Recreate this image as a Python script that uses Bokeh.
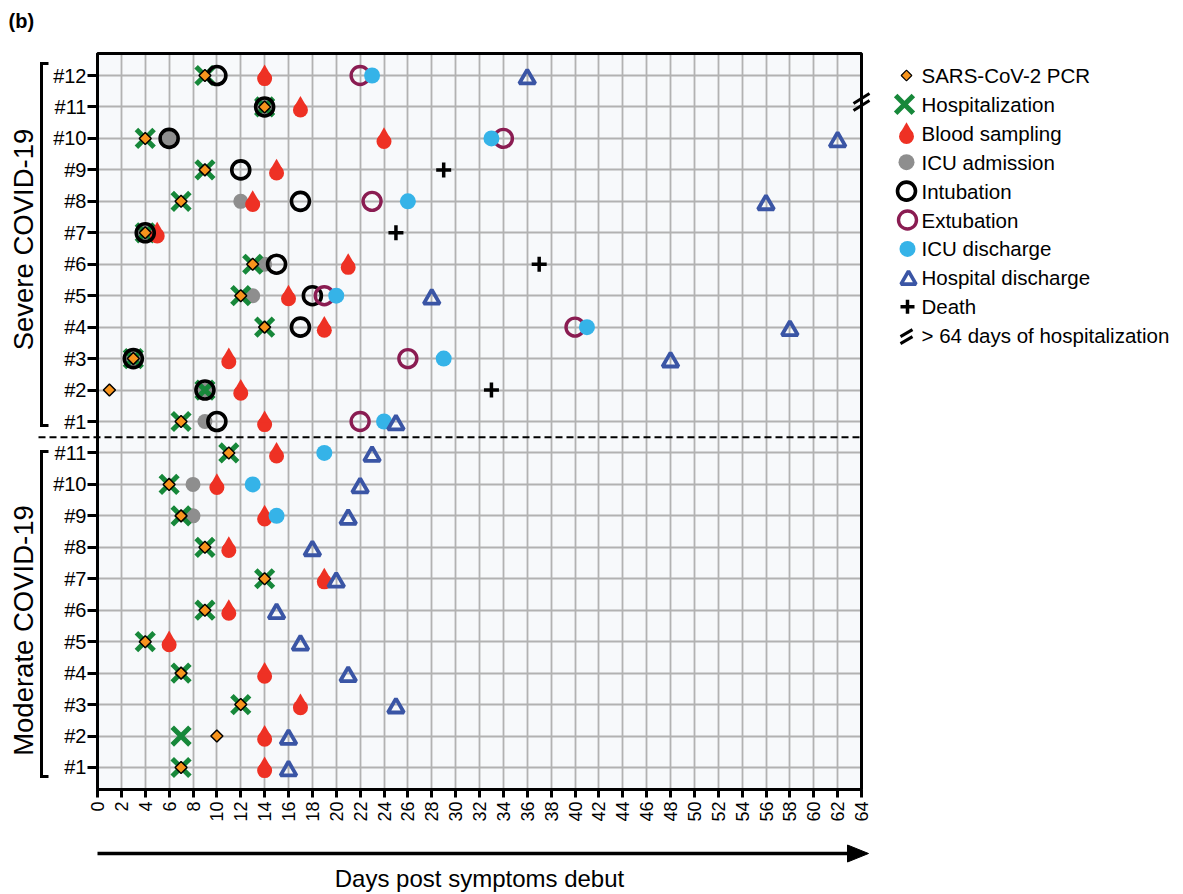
import numpy as np
from bokeh.plotting import figure
from bokeh.models import Range1d, FixedTicker
from bokeh.embed import file_html
from bokeh.resources import INLINE
from bokeh.core.properties import value

# ---------------- data ----------------
severe_ids = ["#1", "#2", "#3", "#4", "#5", "#6", "#7", "#8", "#9", "#10", "#11", "#12"]
moderate_ids = ["#1", "#2", "#3", "#4", "#5", "#6", "#7", "#8", "#9", "#10", "#11"]
x_ticks = list(range(0, 65, 2))

# severe patients (None = no event)
sev_pcr = [7, 1, 3, 14, 12, 13, 4, 7, 9, 4, 14, 9]
sev_hosp = [7, 9, 3, 14, 12, 13, 4, 7, 9, 4, 14, 9]
sev_blood = [14, 12, 11, 19, 16, 21, 5, 13, 15, 24, 17, 14]
sev_icu_adm = [9, 9, 3, None, 13, 14, 4, 12, None, 6, 14, None]
sev_intub = [10, 9, 3, 17, 18, 15, 4, 17, 12, 6, 14, 10]
sev_extub = [22, None, 26, 40, 19, None, None, 23, None, 34, None, 22]
sev_icu_dis = [24, None, 29, 41, 20, None, None, 26, None, 33, None, 23]
sev_hosp_dis = [25, None, 48, 58, 28, None, None, 56, None, 62, None, 36]
sev_death = [None, 33, None, None, None, 37, 25, None, 29, None, None, None]
sev_over64 = [False, False, False, False, False, False, False, False, False, False, True, False]

# moderate patients
mod_pcr = [7, 10, 12, 7, 4, 9, 14, 9, 7, 6, 11]
mod_hosp = [7, 7, 12, 7, 4, 9, 14, 9, 7, 6, 11]
mod_blood = [14, 14, 17, 14, 6, 11, 19, 11, 14, 10, 15]
mod_icu_adm = [None, None, None, None, None, None, None, None, 8, 8, None]
mod_icu_dis = [None, None, None, None, None, None, None, None, 15, 13, 19]
mod_hosp_dis = [16, 16, 25, 21, 17, 15, 20, 18, 21, 22, 23]

legend_labels = ["SARS-CoV-2 PCR", "Hospitalization", "Blood sampling", "ICU admission",
                 "Intubation", "Extubation", "ICU discharge", "Hospital discharge",
                 "Death", "> 64 days of hospitalization"]

# ---------------- styling ----------------
FONT = "Liberation Sans"
C_PCR = "#F7941D"
C_HOSP = "#17883A"
C_BLOOD = "#EE3124"
C_ICU = "#8E8E8E"
C_EXT = "#8A1C52"
C_ICUD = "#35B3E8"
C_HD = "#3A55A5"
BG = "#F7F9FB"
GRID = "#B2B2B2"

n_mod = len(moderate_ids)
n_sev = len(severe_ids)
n_rows = n_mod + n_sev
Y0, Y1 = 0.3, n_rows + 0.7
X0, X1 = 0, 64
W, H = 1180, 892
# plot frame in canvas pixels
FL, FR, FT, FB = 97, 861, 53, 789
ppu_x = (FR - FL) / (X1 - X0)
ppu_y = (FB - FT) / (Y1 - Y0)


def px2x(px):
    return X0 + (px - FL) / ppu_x


def py2y(py):
    return Y0 + (FB - py) / ppu_y


row_sev = [n_mod + i + 1 for i in range(n_sev)]
row_mod = [i + 1 for i in range(n_mod)]


def pts(days_s, days_m=None):
    xs, ys = [], []
    for d, r in zip(days_s, row_sev):
        if d is not None:
            xs.append(d); ys.append(r)
    if days_m is not None:
        for d, r in zip(days_m, row_mod):
            if d is not None:
                xs.append(d); ys.append(r)
    return np.array(xs, dtype=float), np.array(ys, dtype=float)


p = figure(width=W, height=H, x_range=Range1d(px2x(0), px2x(W)), y_range=Range1d(py2y(H), py2y(0)),
           output_backend="svg", toolbar_location=None, min_border=0,
           background_fill_color="white", border_fill_color="white")
p.outline_line_color = None

# background of the plotting area
bg = p.quad(left=[X0], right=[X1], bottom=[Y0], top=[Y1], fill_color=BG, line_color=None)
bg.level = "image"

# axes (fixed at the data frame edges)
p.xaxis.fixed_location = Y0
p.xaxis.bounds = (X0, X1)
p.xaxis.ticker = FixedTicker(ticks=x_ticks)
p.xaxis.major_label_orientation = np.pi / 2
p.xaxis.major_label_text_font = FONT
p.xaxis.major_label_text_font_size = "18px"
p.xaxis.major_label_text_color = "black"
p.xaxis.axis_line_width = 3
p.xaxis.major_tick_line_width = 3
p.xaxis.major_tick_out = 8
p.xaxis.major_tick_in = 0
p.xaxis.minor_tick_line_color = None
p.xaxis.major_label_standoff = 4

all_rows = row_mod + row_sev
p.yaxis.fixed_location = X0
p.yaxis.bounds = (Y0, Y1)
p.yaxis.ticker = FixedTicker(ticks=all_rows)
p.yaxis.major_label_overrides = {r: lab for r, lab in zip(row_mod, moderate_ids)} | \
    {r: lab for r, lab in zip(row_sev, severe_ids)}
p.yaxis.major_label_text_font = FONT
p.yaxis.major_label_text_font_size = "20px"
p.yaxis.major_label_text_color = "black"
p.yaxis.axis_line_width = 3
p.yaxis.major_tick_line_width = 3
p.yaxis.major_tick_out = 10
p.yaxis.major_tick_in = 0
p.yaxis.minor_tick_line_color = None
p.yaxis.major_label_standoff = 1

p.xgrid.ticker = FixedTicker(ticks=x_ticks)
p.ygrid.ticker = FixedTicker(ticks=all_rows)
grid_ok = True
try:
    p.xgrid.bounds = (X0, X1)
    p.xgrid.cross_bounds = (Y0, Y1)
    p.ygrid.bounds = (Y0, Y1)
    p.ygrid.cross_bounds = (X0, X1)
except AttributeError:
    grid_ok = False
if grid_ok:
    for g in (p.xgrid, p.ygrid):
        g.grid_line_color = GRID
        g.grid_line_width = 1.8
else:
    p.grid.grid_line_color = None
    gx = np.array(x_ticks, dtype=float)
    p.segment(x0=gx, y0=[Y0] * len(gx), x1=gx, y1=[Y1] * len(gx), line_color=GRID, line_width=1.8, level="underlay")
    gy = np.array(all_rows, dtype=float)
    p.segment(x0=[X0] * len(gy), y0=gy, x1=[X1] * len(gy), y1=gy, line_color=GRID, line_width=1.8, level="underlay")

# frame box
p.quad(left=[X0], right=[X1], bottom=[Y0], top=[Y1], fill_color=None, line_color="black", line_width=3)

# separator (dashed)
sep = n_mod + 0.5
p.segment(x0=[px2x(38)], y0=[sep], x1=[X1], y1=[sep], line_width=2.2, line_dash="7 4", line_color="black")

# brackets + group labels
bx, bt = px2x(41), px2x(48)
groups = [(py2y(425), py2y(63), "Severe COVID-19", py2y(239)),
          (py2y(776), py2y(451), "Moderate COVID-19", py2y(630))]
for lo, hi, lab, yc in groups:
    p.line(x=[bt, bx, bx, bt], y=[hi, hi, lo, lo], line_width=3, line_color="black", line_join="miter")
    p.text(x=[px2x(23)], y=[yc], text=[lab], angle=np.pi / 2, text_align="center", text_baseline="middle",
           text_font=value(FONT), text_font_size="27.5px", text_color="black")

# (b)
p.text(x=[px2x(8)], y=[py2y(9)], text=["(b)"], text_align="left", text_baseline="top",
       text_font=value(FONT), text_font_style="bold", text_font_size="20px", text_color="black")

# bottom arrow + axis title
ya = py2y(853)
p.segment(x0=[X0], y0=[ya], x1=[px2x(850)], y1=[ya], line_width=3.5, line_color="black")
p.patch(x=[px2x(847), px2x(868), px2x(847)], y=[ya + 8.5 / ppu_y, ya, ya - 8.5 / ppu_y],
        fill_color="black", line_color="black", line_width=1)
p.text(x=[(X0 + X1) / 2], y=[py2y(878)], text=["Days post symptoms debut"], text_align="center",
       text_baseline="middle", text_font=value(FONT), text_font_size="24px", text_color="black")

# ---------------- markers ----------------
x, y = pts(sev_icu_adm, mod_icu_adm)
p.scatter(x, y, marker="circle", size=15, fill_color=C_ICU, line_color=None)
x, y = pts(sev_hosp, mod_hosp)
p.scatter(x, y, marker="x", size=25, line_color=C_HOSP, line_width=5)
x, y = pts(sev_blood, mod_blood)
p.scatter(x, y - 3.1 / ppu_y, marker="circle", size=15, fill_color=C_BLOOD, line_color=None)
p.scatter(x, y + 3.2 / ppu_y, marker="triangle", size=13.6, fill_color=C_BLOOD, line_color=None)
x, y = pts(sev_intub)
p.scatter(x, y, marker="circle", size=18, fill_color=None, line_color="black", line_width=3.6)
x, y = pts(sev_extub)
p.scatter(x, y, marker="circle", size=18, fill_color=None, line_color=C_EXT, line_width=3.4)
x, y = pts(sev_icu_dis, mod_icu_dis)
p.scatter(x, y, marker="circle", size=16, fill_color=C_ICUD, line_color=None)
x, y = pts(sev_hosp_dis, mod_hosp_dis)
p.scatter(x, y - 3.3 / ppu_y, marker="triangle", size=16, fill_color=None, line_color=C_HD, line_width=3.8)
x, y = pts(sev_death)
p.scatter(x, y, marker="cross", size=15, line_color="black", line_width=3.5)
x, y = pts(sev_pcr, mod_pcr)
p.scatter(x, y, marker="square", angle=np.pi / 4, size=8.5, fill_color=C_PCR, line_color="black", line_width=1.5)

# > 64 days break marks (at the right edge of the frame)
bx0, bx1, by0, by1 = [], [], [], []
for flag, r in zip(sev_over64, row_sev):
    if flag:
        for off in (-3.5, 3.5):
            yc = r + 5 / ppu_y + off / ppu_y
            bx0.append(X1 - 8 / ppu_x); bx1.append(X1 + 8 / ppu_x)
            by0.append(yc - 5 / ppu_y); by1.append(yc + 5 / ppu_y)
p.segment(x0=bx0, y0=by0, x1=bx1, y1=by1, line_width=3, line_color="black")

# ---------------- legend ----------------
n_leg = len(legend_labels)
ly = np.array([py2y(75 + 28.9 * i) for i in range(n_leg)])
mx = px2x(906)
tx = px2x(921)
p.text(x=[tx] * n_leg, y=ly, text=legend_labels, text_font=value(FONT),
       text_font_size="20.5px", text_baseline="middle", text_align="left", text_color="black")
d = 1 / ppu_y
p.scatter([mx], [ly[0]], marker="square", angle=np.pi / 4, size=7.5, fill_color=C_PCR, line_color="black", line_width=1.2)
p.scatter([mx - 2 / ppu_x], [ly[1]], marker="x", size=25, line_color=C_HOSP, line_width=5)
p.scatter([mx], [ly[2] - 3.1 * d], marker="circle", size=15, fill_color=C_BLOOD, line_color=None)
p.scatter([mx], [ly[2] + 3.2 * d], marker="triangle", size=13.6, fill_color=C_BLOOD, line_color=None)
p.scatter([mx], [ly[3]], marker="circle", size=16, fill_color=C_ICU, line_color=None)
p.scatter([mx], [ly[4]], marker="circle", size=18, fill_color=None, line_color="black", line_width=3.6)
p.scatter([mx + 1 / ppu_x], [ly[5]], marker="circle", size=18, fill_color=None, line_color=C_EXT, line_width=3.4)
p.scatter([mx + 1 / ppu_x], [ly[6]], marker="circle", size=16, fill_color=C_ICUD, line_color=None)
p.scatter([mx + 2 / ppu_x], [ly[7] - 2 * d], marker="triangle", size=15, fill_color=None, line_color=C_HD, line_width=3.6)
p.scatter([mx + 1 / ppu_x], [ly[8]], marker="cross", size=14, line_color="black", line_width=3.5)
p.segment(x0=[mx - 6 / ppu_x] * 2, y0=[ly[9] - 1 * d, ly[9] - 8 * d], x1=[mx + 6 / ppu_x] * 2,
          y1=[ly[9] + 6 * d, ly[9] - 1 * d], line_width=3, line_color="black")

open("out.html", "w").write(file_html(p, INLINE))
